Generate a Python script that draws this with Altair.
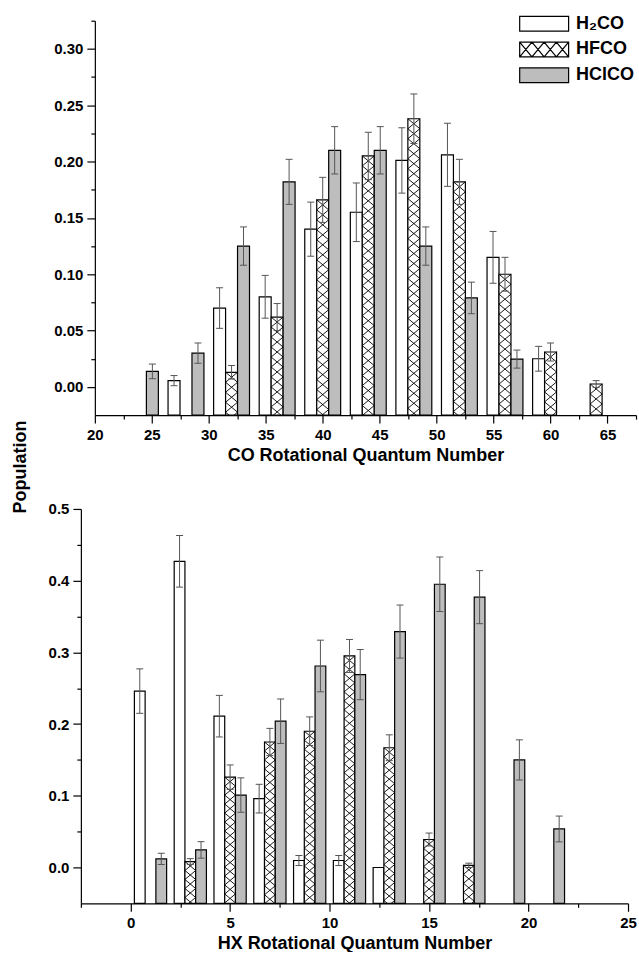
import altair as alt
import pandas as pd

SPECIES = ["H₂CO", "HFCO", "HClCO"]
FILLS = ["#ffffff", "#ffffff", "#bdbdbd"]
FONT = "Liberation Sans"

# ---------------- CO rotational distribution (top panel) ----------------
co_h2co_j = [28, 32, 36, 40, 44, 48, 52, 56, 60]
co_h2co_pop = [0.0056, 0.070, 0.080, 0.140, 0.155, 0.201, 0.206, 0.115, 0.025]
co_h2co_err = [0.0045, 0.018, 0.019, 0.024, 0.026, 0.029, 0.028, 0.023, 0.011]

co_hfco_j = [32, 36, 40, 44, 48, 52, 56, 60, 64]
co_hfco_pop = [0.013, 0.062, 0.166, 0.205, 0.238, 0.182, 0.100, 0.031, 0.0026]
co_hfco_err = [0.006, 0.012, 0.020, 0.021, 0.022, 0.020, 0.015, 0.008, 0.003]

co_hclco_j = [24, 28, 32, 36, 40, 44, 48, 52, 56]
co_hclco_pop = [0.0138, 0.030, 0.125, 0.182, 0.210, 0.210, 0.125, 0.079, 0.0247]
co_hclco_err = [0.0065, 0.009, 0.017, 0.020, 0.021, 0.021, 0.017, 0.014, 0.008]

# ---------------- HX rotational distribution (bottom panel) ----------------
hx_h2co_j = [1, 3, 5, 7, 9, 11, 13]
hx_h2co_pop = [0.246, 0.427, 0.211, 0.096, 0.0097, 0.0097, 0.0]
hx_h2co_err = [0.031, 0.036, 0.029, 0.020, 0.007, 0.007, 0.0]

hx_hfco_j = [3, 5, 7, 9, 11, 13, 15, 17]
hx_hfco_pop = [0.0083, 0.126, 0.175, 0.190, 0.295, 0.167, 0.039, 0.003]
hx_hfco_err = [0.004, 0.017, 0.019, 0.020, 0.023, 0.018, 0.009, 0.003]

hx_hclco_j = [1, 3, 5, 7, 9, 11, 13, 15, 17, 19, 21]
hx_hclco_pop = [0.012, 0.0245, 0.101, 0.204, 0.281, 0.269, 0.329, 0.395, 0.377, 0.150, 0.0537]
hx_hclco_err = [0.008, 0.0115, 0.024, 0.031, 0.036, 0.035, 0.037, 0.038, 0.037, 0.028, 0.018]

# axis ticks (major + minor)
co_xticks = [20 + 2.5 * i for i in range(20)]
co_yticks = [round(0.025 * i, 3) for i in range(14)]
hx_xticks = [-2.5 + 2.5 * i for i in range(12)]
hx_yticks = [round(0.05 * i, 2) for i in range(11)]


def build_df(js, pops, errs, offsets, half_w, ymin):
    rows = []
    for sp, J, P, E, off in zip(SPECIES, js, pops, errs, offsets):
        for j, p, e in zip(J, P, E):
            xc = j + off
            rows.append(dict(species=sp, xc=xc, x0=xc - half_w, x1=xc + half_w,
                             base=ymin, pop=p, lo=p - e, hi=p + e, err=e))
    return pd.DataFrame(rows)


def hatch_df(df, ydom, h_px, cell_px):
    per = (ydom[1] - ydom[0]) / h_px
    rows = []
    for _, r in df[df.species == "HFCO"].iterrows():
        k = 0
        while True:
            yc = r["pop"] - (k + 0.5) * cell_px * per
            if yc + 0.5 * cell_px * per <= ydom[0]:
                break
            rows.append(dict(xc=r["xc"], yc=yc))
            k += 1
    return pd.DataFrame(rows)


# legend key swatches: 49 x 15 px boxes drawn with a 15 px symbol size
SW, SH = 3.267, 0.98
rect = f"M{-SW},{-SH}L{SW},{-SH}L{SW},{SH}L{-SW},{SH}Z"
hatch_lines = ""
cell = 2 * SW / 4
for k in range(4):
    a, b = -SW + cell * k, -SW + cell * (k + 1)
    hatch_lines += f"M{a:.3f},{-SH}L{b:.3f},{SH}M{a:.3f},{SH}L{b:.3f},{-SH}"


def axis_props(extra):
    base = dict(domainColor="black", domainWidth=1.2, tickColor="black", tickWidth=1.2,
                labelColor="black", labelFont=FONT, labelFontSize=15, labelFontWeight="bold",
                titleFont=FONT, titleFontSize=18, titleFontWeight="bold", titleColor="black",
                grid=False, labelOverlap=False, labelFlush=False, labelPadding=4)
    base.update(extra)
    return alt.Axis(**base)


def panel(js, pops, errs, offsets, half_w, xdom, xrange_px, ydom, w, h, xticks, yticks,
          xmajor, ymajor, yfmt, xtitle, cell_px, with_legend, yoffset):
    df = build_df(js, pops, errs, offsets, half_w, ydom[0])
    edf = df[df.err > 0]
    cdf = pd.concat([edf.assign(yc=edf.lo), edf.assign(yc=edf.hi)])
    hdf = hatch_df(df, ydom, h, cell_px)
    # legend key points sit above the plotted range (clipped, so not drawn)
    ldf = df.assign(yk=ydom[1] + 1.0)

    xs = alt.Scale(domain=xdom, range=xrange_px, nice=False, zero=False)
    ys = alt.Scale(domain=ydom, nice=False, zero=False)
    xaxis = axis_props(dict(values=xticks, format="d", title=xtitle, titlePadding=4,
                            labelExpr=f"({xmajor}) ? datum.label : ''",
                            tickSize={"condition": {"test": xmajor, "value": 8}, "value": 4}))
    yaxis = axis_props(dict(values=yticks, format=yfmt, title=None, offset=yoffset,
                            labelExpr=f"({ymajor}) ? datum.label : ''",
                            tickSize={"condition": {"test": ymajor, "value": 8}, "value": 4}))

    def X(f):
        return alt.X(f, type="quantitative", scale=xs, axis=xaxis)

    def Y(f):
        return alt.Y(f, type="quantitative", scale=ys, axis=yaxis)

    px_per_unit = (xrange_px[1] - xrange_px[0]) / (xdom[1] - xdom[0])
    bw_px = 2 * half_w * px_per_unit
    r = cell_px / bw_px
    xpath = f"M-1,{-r}L1,{r}M-1,{r}L1,{-r}"

    # bar fills: same colours, domain listed in another order so that this
    # (legend-less) scale is not merged with the key's scale
    bar_scale = alt.Scale(domain=SPECIES[::-1], range=FILLS[::-1])
    bars = alt.Chart(df).mark_bar(stroke="black", strokeWidth=1.2, opacity=1).encode(
        x=X("x0"), x2="x1", y=Y("base"), y2="pop",
        color=alt.Color("species:N", scale=bar_scale, legend=None))
    hatch = alt.Chart(hdf).mark_point(shape=xpath, size=bw_px ** 2, stroke="black",
                                      strokeWidth=0.9, filled=False, opacity=1, clip=True).encode(
        x=X("xc"), y=Y("yc"))
    rules = alt.Chart(edf).mark_rule(color="#555555", strokeWidth=1).encode(
        x=X("xc"), y=Y("lo"), y2="hi")
    caps = alt.Chart(cdf).mark_tick(color="#555555", orient="horizontal", size=7,
                                    thickness=1, opacity=1).encode(x=X("xc"), y=Y("yc"))
    layers = [bars, hatch, rules, caps]
    if with_legend:
        leg = alt.Legend(title=None, orient="none", legendX=441, legendY=-6,
                         labelFont=FONT, labelFontSize=18, labelFontWeight="bold",
                         labelColor="black", symbolSize=225, symbolStrokeWidth=1.2,
                         symbolOpacity=1, rowPadding=5.8, labelOffset=23)
        legpts = alt.Chart(ldf).mark_point(filled=True, opacity=1, size=225,
                                           strokeWidth=1.2, clip=True).encode(
            x=X("xc"), y=Y("yk"),
            fill=alt.Fill("species:N", scale=alt.Scale(domain=SPECIES, range=FILLS), legend=leg),
            stroke=alt.Stroke("species:N",
                              scale=alt.Scale(domain=SPECIES, range=["black", "black", "black"]),
                              legend=leg),
            shape=alt.Shape("species:N",
                            scale=alt.Scale(domain=SPECIES, range=[rect, rect + hatch_lines, rect]),
                            legend=leg))
        layers.append(legpts)
    return alt.layer(*layers).properties(width=w, height=h)


top = panel([co_h2co_j, co_hfco_j, co_hclco_j], [co_h2co_pop, co_hfco_pop, co_hclco_pop],
            [co_h2co_err, co_hfco_err, co_hclco_err], [-1.05, 0, 1.05], 0.525,
            [20, 67.5], [0, 542], [-0.025, 0.325], 542, 395, co_xticks, co_yticks,
            "datum.value % 5 === 0", "round(datum.value * 1000) % 50 === 0", ".2f",
            "CO Rotational Quantum Number", 10, True, 0)

bottom = panel([hx_h2co_j, hx_hfco_j, hx_hclco_j], [hx_h2co_pop, hx_hfco_pop, hx_hclco_pop],
               [hx_h2co_err, hx_hfco_err, hx_hclco_err], [-0.54, 0, 0.54], 0.27,
               [-2.5, 25], [-14, 534], [-0.05, 0.5], 534, 395, hx_xticks, hx_yticks,
               "datum.value % 5 === 0", "round(datum.value * 100) % 10 === 0", ".1f",
               "HX Rotational Quantum Number", 9, False, 14)

chart = alt.concat(
    top, bottom, columns=1, spacing=38,
    title=alt.TitleParams("Population", orient="left", anchor="middle", font=FONT,
                          fontSize=18, fontWeight="bold", color="black", offset=18, dx=16),
    padding={"left": 12, "top": 13, "right": -3, "bottom": -1},
).resolve_scale(fill="independent", shape="independent", color="independent",
                stroke="independent").configure_view(stroke=None)

chart.save("out.html", embed_options={"renderer": "svg", "actions": False})
